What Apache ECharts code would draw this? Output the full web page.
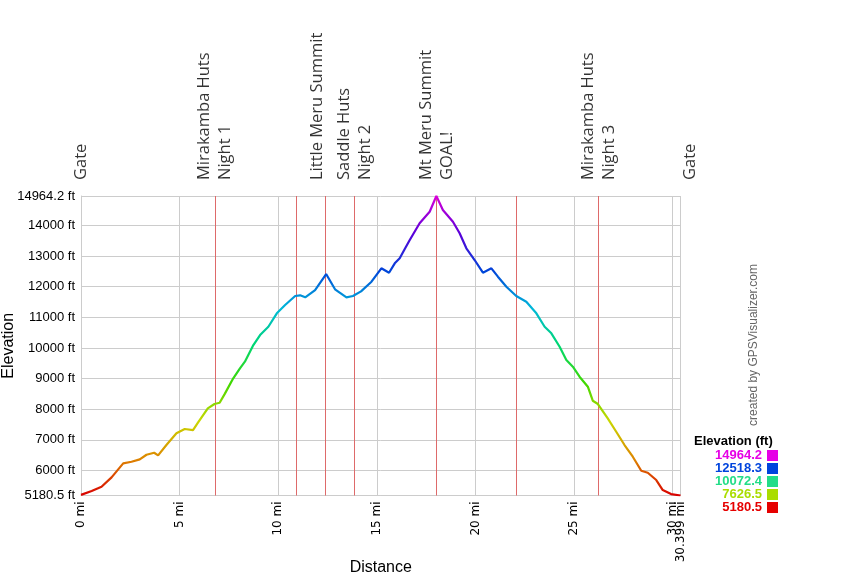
<!DOCTYPE html>
<html>
<head>
<meta charset="utf-8">
<script src="https://cdn.jsdelivr.net/npm/echarts@6/dist/echarts.min.js"></script>
<style>
html,body{margin:0;padding:0;background:#fff;}
#chart{width:864px;height:576px;}
</style>
</head>
<body>
<div id="chart"></div>
<script>
// ---- data ----
var distances = [0, 0.54, 1.04, 1.55, 2.14, 2.56, 2.98, 3.32, 3.71, 3.91, 4.33, 4.84, 5.26, 5.68, 5.93, 6.43, 6.77, 7.03, 7.29, 7.72, 8.06, 8.31, 8.74, 9.08, 9.50, 9.93, 10.35, 10.86, 11.11, 11.37, 11.87, 12.43, 12.88, 13.46, 13.79, 14.20, 14.73, 15.23, 15.62, 15.91, 16.16, 16.41, 16.67, 17.17, 17.68, 18.02, 18.35, 18.86, 19.20, 19.54, 19.96, 20.38, 20.81, 21.14, 21.57, 22.07, 22.58, 23.09, 23.51, 23.85, 24.27, 24.61, 24.94, 25.28, 25.70, 25.95, 26.21, 26.71, 27.14, 27.56, 27.98, 28.41, 28.74, 29.17, 29.50, 29.92, 30.399];
var elevations = [5200, 5326, 5467, 5774, 6231, 6284, 6362, 6512, 6578, 6493, 6829, 7211, 7352, 7319, 7558, 8028, 8169, 8211, 8500, 9008, 9335, 9551, 10096, 10423, 10694, 11132, 11403, 11697, 11720, 11655, 11893, 12416, 11916, 11655, 11697, 11850, 12164, 12602, 12458, 12765, 12929, 13223, 13527, 14072, 14451, 14964.2, 14507, 14124, 13745, 13255, 12873, 12458, 12602, 12328, 12001, 11697, 11511, 11132, 10694, 10478, 10041, 9606, 9387, 9061, 8734, 8277, 8169, 7701, 7264, 6829, 6447, 5989, 5924, 5686, 5359, 5228, 5180.5];

var xTicks = [0, 5, 10, 15, 20, 25, 30];
var xEndTick = [30.399];
var yTicks = [5180.5, 6000, 7000, 8000, 9000, 10000, 11000, 12000, 13000, 14000, 14964.2];

var waypointLineDist = [6.79, 10.94, 12.41, 13.88, 18.03, 22.09, 26.24];
var waypointNames = ['Gate', 'Mirakamba Huts\nNight 1', 'Little Meru Summit', 'Saddle Huts\nNight 2', 'Mt Meru Summit\nGOAL!', 'Mirakamba Huts\nNight 3', 'Gate'];
var waypointDist = [0, 6.79, 12.41, 13.88, 18.03, 26.24, 30.399];
var waypointNudge = [0, 0, -8, 0, 0, 0, 10];

var elevMin = 5180.5, elevMax = 14964.2, distMax = 30.399;
var legendValues = ['14964.2', '12518.3', '10072.4', '7626.5', '5180.5'];
var legendColors = ['#e600e6', '#0044dd', '#22dd88', '#aadd00', '#e60000'];
var rampColors = ['#d90000', '#dd8800', '#c8d800', '#40d800', '#00d870', '#00b8d9', '#0044d9', '#5a00d9', '#d900d9'];

// ---- chart ----
var chart = echarts.init(document.getElementById('chart'));
var FONT = 'Arial, "Liberation Sans", sans-serif';

var profile = distances.map(function (d, i) { return [d, elevations[i]]; });
var wpData = waypointDist.map(function (d, i) {
  return { value: [d, elevMax], name: waypointNames[i], label: { offset: [0, waypointNudge[i]] } };
});

var series = [{
  type: 'line',
  data: profile,
  showSymbol: false,
  lineStyle: { width: 2.2 },
  z: 5,
  markLine: {
    silent: true,
    symbol: 'none',
    label: { show: false },
    lineStyle: { color: '#de6a6a', width: 1, type: 'solid' },
    data: waypointLineDist.map(function (d) { return { xAxis: d }; })
  }
}, {
  type: 'scatter',
  data: wpData,
  symbolSize: 0,
  silent: true,
  label: {
    show: true,
    formatter: function (p) { return p.name; },
    position: 'top',
    distance: 16,
    rotate: 90,
    align: 'left',
    verticalAlign: 'middle',
    fontFamily: '"Open Sans", sans-serif',
    fontSize: 16.5,
    lineHeight: 21,
    color: '#000'
  }
}];
legendValues.forEach(function (v, i) {
  series.push({ type: 'line', name: v, data: [], color: legendColors[i], itemStyle: { color: legendColors[i] } });
});

var xLabelStyle = {
  rotate: 90, margin: 6, color: '#000',
  fontFamily: '"DejaVu Sans", sans-serif', fontSize: 12,
  hideOverlap: false, showMinLabel: true, showMaxLabel: true,
  formatter: function (v) { return v + ' mi'; }
};

chart.setOption({
  animation: false,
  backgroundColor: '#fff',
  grid: { left: 81, right: 183.5, top: 196, bottom: 80.5, containLabel: false, outerBoundsMode: 'none' },
  visualMap: {
    type: 'continuous', show: false, seriesIndex: 0, dimension: 1,
    min: elevMin, max: elevMax,
    inRange: { color: rampColors }
  },
  legend: {
    orient: 'vertical',
    right: 86,
    top: 449,
    padding: 0,
    align: 'right',
    itemWidth: 11,
    itemHeight: 11,
    itemGap: 0,
    icon: 'rect',
    selectedMode: false,
    textStyle: { fontFamily: FONT, fontSize: 13, fontWeight: 'bold' },
    data: legendValues.map(function (v, i) {
      return { name: v, icon: 'rect', itemStyle: { color: legendColors[i] }, textStyle: { color: legendColors[i], fontWeight: 'bold' } };
    })
  },
  xAxis: [{
    type: 'value',
    min: 0, max: distMax,
    name: 'Distance', nameLocation: 'middle', nameGap: 64, nameMoveOverlap: false,
    nameTextStyle: { fontFamily: FONT, fontSize: 16, color: '#000' },
    axisLine: { show: true, lineStyle: { color: '#cccccc' } },
    axisTick: { show: false, customValues: xTicks },
    splitLine: { show: true, lineStyle: { color: '#cccccc', width: 1 } },
    axisLabel: Object.assign({ customValues: xTicks }, xLabelStyle)
  }, {
    type: 'value',
    position: 'bottom', offset: 0,
    min: 0, max: distMax,
    axisLine: { show: false },
    axisTick: { show: false, customValues: xEndTick },
    splitLine: { show: true, lineStyle: { color: '#cccccc', width: 1 } },
    axisLabel: Object.assign({ customValues: xEndTick }, xLabelStyle)
  }],
  yAxis: {
    type: 'value',
    min: elevMin, max: elevMax,
    name: 'Elevation', nameLocation: 'middle', nameGap: 64, nameMoveOverlap: false,
    nameTextStyle: { fontFamily: FONT, fontSize: 16, color: '#000' },
    axisLine: { show: true, lineStyle: { color: '#cccccc' } },
    axisTick: { show: false, customValues: yTicks },
    splitLine: { show: true, lineStyle: { color: '#cccccc', width: 1 } },
    axisLabel: {
      margin: 6, color: '#000', fontFamily: FONT, fontSize: 13,
      customValues: yTicks, showMinLabel: true, showMaxLabel: true,
      formatter: function (v) { return v + ' ft'; }
    }
  },
  graphic: [{
    type: 'text',
    left: 694, top: 435,
    style: { text: 'Elevation (ft)', font: 'bold 13px Arial, "Liberation Sans", sans-serif', fill: '#000' }
  }, {
    type: 'text',
    x: 754, y: 345, rotation: Math.PI / 2,
    style: { text: 'created by GPSVisualizer.com', font: '12px Arial, "Liberation Sans", sans-serif', fill: '#666', align: 'center', verticalAlign: 'middle' }
  }],
  series: series
});
</script>
</body>
</html>
